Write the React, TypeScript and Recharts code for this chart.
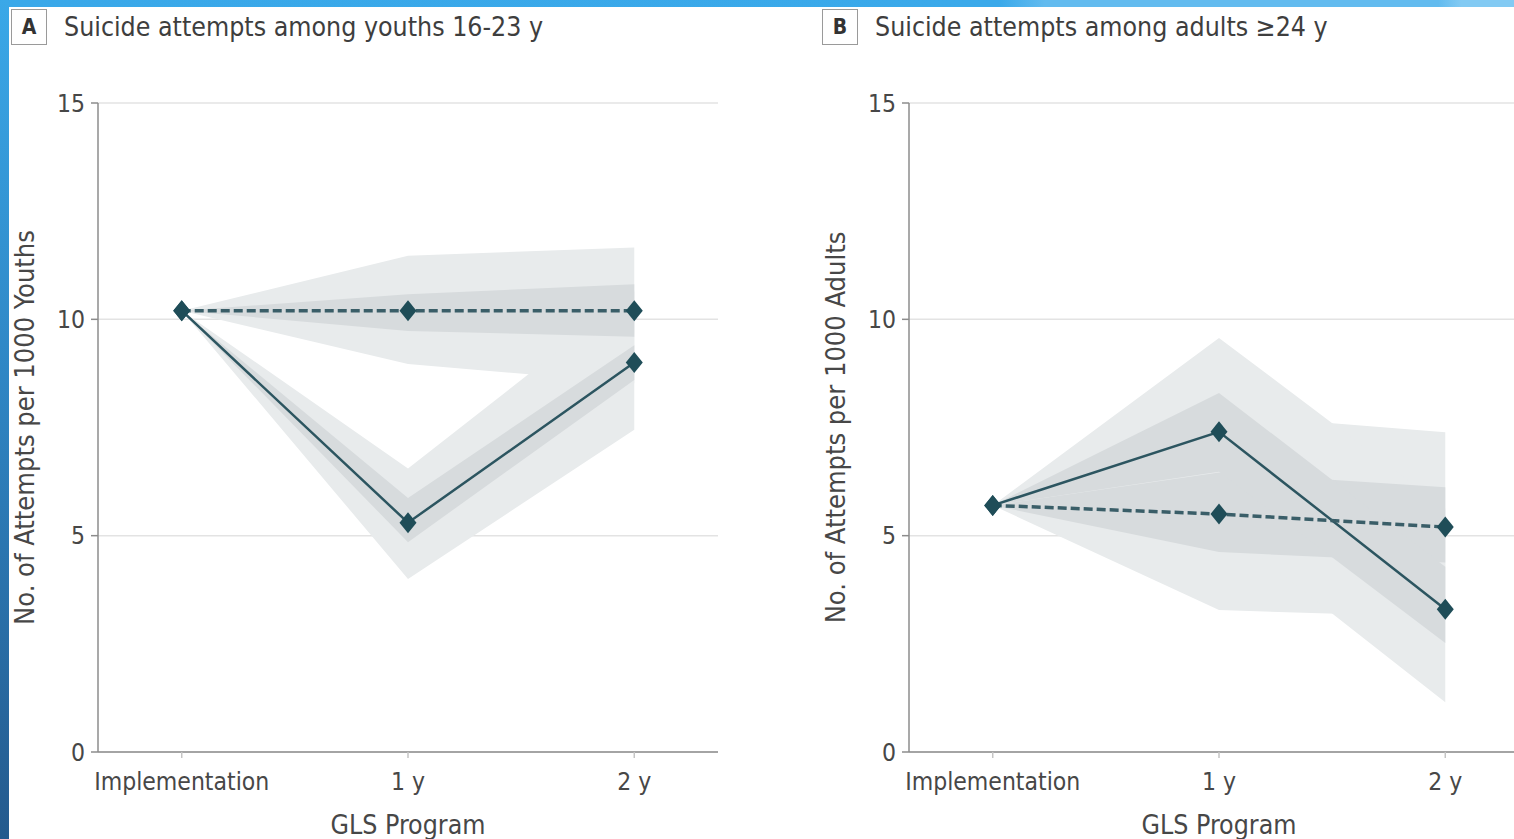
import React from 'react';
import {
  ComposedChart,
  Area,
  Line,
  XAxis,
  YAxis,
  CartesianGrid,
} from 'recharts';

const FONT = "'DejaVu Sans Condensed', 'DejaVu Sans', sans-serif";

const periods = ['Implementation', '1 y', '2 y'];
const periodX = [0, 1, 2];
const yTicks = [0, 5, 10, 15];

// youths 16-23 y
const youthObserved = [10.2, 5.3, 9.0];
const youthExpected = [10.2, 10.2, 10.2];
const youthObsOuterLow = [10.2, 4.0, 7.45];
const youthObsOuterHigh = [10.2, 6.55, 10.65];
const youthObsInnerLow = [10.2, 4.85, 8.6];
const youthObsInnerHigh = [10.2, 5.87, 9.4];
const youthExpOuterLow = [10.2, 8.97, 8.52];
const youthExpOuterHigh = [10.2, 11.47, 11.66];
const youthExpInnerLow = [10.2, 9.73, 9.6];
const youthExpInnerHigh = [10.2, 10.58, 10.81];

// adults >=24 y
const adultObserved = [5.7, 7.4, 3.3];
const adultExpected = [5.7, 5.5, 5.2];
const adultObsOuterLow = [5.7, 5.25, 1.15];
const adultObsOuterHigh = [5.7, 9.57, 5.63];
const adultObsInnerLow = [5.7, 6.48, 2.52];
const adultObsInnerHigh = [5.7, 8.3, 4.28];
const adultExpOuterLow = [5.7, 3.28, 3.12];
const adultExpOuterHigh = [5.7, 7.81, 7.39];
const adultExpInnerLow = [5.7, 4.62, 4.38];
const adultExpInnerHigh = [5.7, 6.46, 6.12];

const LIGHT = '#e8ebec';
const DARK = '#d7dbdd';
const LINE = '#2c5560';
const MARK = '#1f4d58';
const AXIS = '#8c8c8c';
const TEXT = '#474747';

const buildRows = (
  obs: number[],
  exp: number[],
  oOutLo: number[],
  oOutHi: number[],
  oInLo: number[],
  oInHi: number[],
  eOutLo: number[],
  eOutHi: number[],
  eInLo: number[],
  eInHi: number[]
) =>
  periodX.map((x, i) => ({
    x,
    obs: obs[i],
    exp: exp[i],
    obsOuter: [oOutLo[i], oOutHi[i]],
    obsInner: [oInLo[i], oInHi[i]],
    expOuter: [eOutLo[i], eOutHi[i]],
    expInner: [eInLo[i], eInHi[i]],
  }));

const youthRows = buildRows(
  youthObserved,
  youthExpected,
  youthObsOuterLow,
  youthObsOuterHigh,
  youthObsInnerLow,
  youthObsInnerHigh,
  youthExpOuterLow,
  youthExpOuterHigh,
  youthExpInnerLow,
  youthExpInnerHigh
);

const adultRows = buildRows(
  adultObserved,
  adultExpected,
  adultObsOuterLow,
  adultObsOuterHigh,
  adultObsInnerLow,
  adultObsInnerHigh,
  adultExpOuterLow,
  adultExpOuterHigh,
  adultExpInnerLow,
  adultExpInnerHigh
);

const Diamond = (props: any) => {
  const { cx, cy } = props;
  if (cx == null || cy == null) return null;
  return (
    <path
      d={`M${cx},${cy - 10.5}L${cx + 8.5},${cy}L${cx},${cy + 10.5}L${cx - 8.5},${cy}Z`}
      fill={MARK}
    />
  );
};

interface PanelProps {
  letter: string;
  title: string;
  yLabel: string;
  rows: any[];
  left: number;
}

const Panel = ({ letter, title, yLabel, rows, left }: PanelProps) => {
  const tickStyle = { fontFamily: FONT, fontSize: 24.5, fill: TEXT };
  return (
    <div style={{ position: 'absolute', left, top: 0, width: 730, height: 839 }}>
      <div
        style={{
          position: 'absolute',
          left: 11,
          top: 9,
          width: 36,
          height: 36,
          border: '1.5px solid #9a9a9a',
          boxSizing: 'border-box',
          fontFamily: FONT,
          fontWeight: 'bold',
          fontSize: 21,
          color: '#333',
          textAlign: 'center',
          lineHeight: '34px',
        }}
      >
        {letter}
      </div>
      <div
        style={{
          position: 'absolute',
          left: 64,
          top: 8,
          fontFamily: FONT,
          fontSize: 26.5,
          color: '#3e3e3e',
          whiteSpace: 'nowrap',
          lineHeight: '38px',
        }}
      >
        {title}
      </div>
      <ComposedChart
        width={730}
        height={839}
        data={rows}
        margin={{ top: 103, right: 12, left: 0, bottom: 0 }}
      >
        <CartesianGrid
          vertical={false}
          stroke='#e3e3e3'
          strokeWidth={1.5}
        />
        <XAxis
          dataKey='x'
          type='number'
          domain={[-0.37, 2.37]}
          ticks={periodX}
          tickFormatter={(v: number) => periods[v] ?? ''}
          height={87}
          tickSize={6}
          tickMargin={15}
          stroke={AXIS}
          strokeWidth={1.5}
          tickLine={{ stroke: '#c4c4c4' }}
          tick={tickStyle}
          label={{
            value: 'GLS Program',
            position: 'insideBottom',
            offset: 5,
            style: { fontFamily: FONT, fontSize: 26.5, fill: TEXT },
          }}
        />
        <YAxis
          type='number'
          domain={[0, 15]}
          ticks={yTicks}
          width={98}
          tickSize={7}
          tickMargin={6}
          stroke={AXIS}
          strokeWidth={1.5}
          tick={tickStyle}
          label={{
            value: yLabel,
            angle: -90,
            position: 'insideLeft',
            offset: 24,
            style: {
              fontFamily: FONT,
              fontSize: 27,
              fill: TEXT,
              textAnchor: 'middle',
            },
          }}
        />
        <Area
          dataKey='expOuter'
          type='linear'
          stroke='none'
          fill={LIGHT}
          fillOpacity={1}
          isAnimationActive={false}
          activeDot={false}
        />
        <Area
          dataKey='obsOuter'
          type='linear'
          stroke='none'
          fill={LIGHT}
          fillOpacity={1}
          isAnimationActive={false}
          activeDot={false}
        />
        <Area
          dataKey='expInner'
          type='linear'
          stroke='none'
          fill={DARK}
          fillOpacity={1}
          isAnimationActive={false}
          activeDot={false}
        />
        <Area
          dataKey='obsInner'
          type='linear'
          stroke='none'
          fill={DARK}
          fillOpacity={1}
          isAnimationActive={false}
          activeDot={false}
        />
        <Line
          dataKey='obs'
          type='linear'
          stroke={LINE}
          strokeWidth={2.5}
          dot={<Diamond />}
          activeDot={false}
          isAnimationActive={false}
        />
        <Line
          dataKey='exp'
          type='linear'
          stroke='#3a5e68'
          strokeWidth={3.5}
          strokeDasharray='9 4'
          dot={<Diamond />}
          activeDot={false}
          isAnimationActive={false}
        />
      </ComposedChart>
    </div>
  );
};

export default function App() {
  return (
    <div
      style={{
        position: 'absolute',
        left: 0,
        top: 0,
        width: 1514,
        height: 839,
        overflow: 'hidden',
        background: '#fff',
      }}
    >
      <Panel
        letter='A'
        title='Suicide attempts among youths 16-23 y'
        yLabel='No. of Attempts per 1000 Youths'
        rows={youthRows}
        left={0}
      />
      <Panel
        letter='B'
        title='Suicide attempts among adults ≥24 y'
        yLabel='No. of Attempts per 1000 Adults'
        rows={adultRows}
        left={811}
      />
      <div
        style={{
          position: 'absolute',
          left: 0,
          top: 0,
          width: 1514,
          height: 7,
          background:
            'linear-gradient(90deg, #39a8e9 0%, #3aa9ea 66%, #62bbef 69%, #62bbef 95%, #82caf3 96.5%, #82caf3 100%)',
        }}
      />
      <div
        style={{
          position: 'absolute',
          left: 0,
          top: 0,
          width: 9,
          height: 839,
          background: 'linear-gradient(180deg, #3aa8e8 0%, #2f86c4 45%, #245a8d 100%)',
        }}
      />
    </div>
  );
}
